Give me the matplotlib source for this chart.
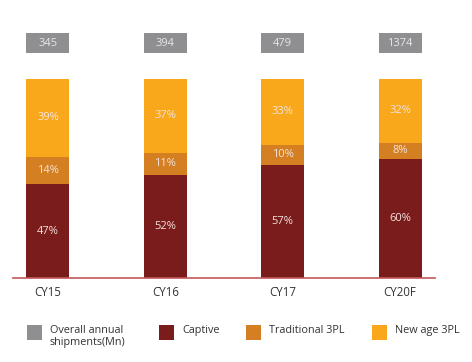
import matplotlib
matplotlib.use("Agg")
import matplotlib.pyplot as plt
from matplotlib.patches import Rectangle
import numpy as np

plt.rcParams['font.family'] = ['Open Sans', 'DejaVu Sans']

categories = ["CY15", "CY16", "CY17", "CY20F"]
shipments = [345, 394, 479, 1374]
captive = [47, 52, 57, 60]
traditional = [14, 11, 10, 8]
new_age = [39, 37, 33, 32]
series_names = ["Overall annual\nshipments(Mn)", "Captive", "Traditional 3PL", "New age 3PL"]

c_gray = "#8f8f92"
c_captive = "#7a1b1c"
c_trad = "#d47f22"
c_new = "#f9a81c"
c_txt = "#f3e3dc"

W, H = 472, 362
fig = plt.figure(figsize=(W/100, H/100), dpi=100)
ax = fig.add_axes([13/W, (H-278)/H, 422/W, 248.75/H])

x = np.arange(len(categories))
bw = 0.366
captive = np.array(captive); traditional = np.array(traditional); new_age = np.array(new_age)
ax.bar(x, captive, bw, color=c_captive)
ax.bar(x, traditional, bw, bottom=captive, color=c_trad)
ax.bar(x, new_age, bw, bottom=captive + traditional, color=c_new)
ax.bar(x, 10, bw, bottom=113, color=c_gray)

fs = 8
for i in range(len(x)):
    ax.text(x[i], captive[i] / 2, f"{captive[i]}%", ha='center', va='center', color=c_txt, fontsize=fs)
    ax.text(x[i], captive[i] + traditional[i] / 2, f"{traditional[i]}%", ha='center', va='center', color=c_txt, fontsize=fs)
    ax.text(x[i], captive[i] + traditional[i] + new_age[i] / 2, f"{new_age[i]}%", ha='center', va='center', color=c_txt, fontsize=fs)
    ax.text(x[i], 118, str(shipments[i]), ha='center', va='center', color="#e8e8ea", fontsize=fs)

ax.set_xlim(-0.298, 3.298)
ax.set_ylim(0, 125)
ax.set_xticks(x)
ax.set_xticklabels(categories, fontsize=8.3, color="#333333")
ax.tick_params(axis='x', length=0, pad=6)
ax.set_yticks([])
for s in ['top', 'right', 'left']:
    ax.spines[s].set_visible(False)
ax.spines['bottom'].set_color("#c2585a")
ax.spines['bottom'].set_linewidth(1.2)

# legend (manual, pixel placement)
leg_colors = [c_gray, c_captive, c_trad, c_new]
leg_x = [27, 159, 246, 372]
for lx, col, name in zip(leg_x, leg_colors, series_names):
    fig.add_artist(Rectangle((lx / W, (H - 340) / H), 15 / W, 15 / H,
                             transform=fig.transFigure, color=col, lw=0))
    fig.text((lx + 23) / W, (H - 325) / H, name, ha='left', va='top',
             fontsize=7.8, color="#333333", linespacing=1.15)

fig.savefig("out.png", dpi=100)
